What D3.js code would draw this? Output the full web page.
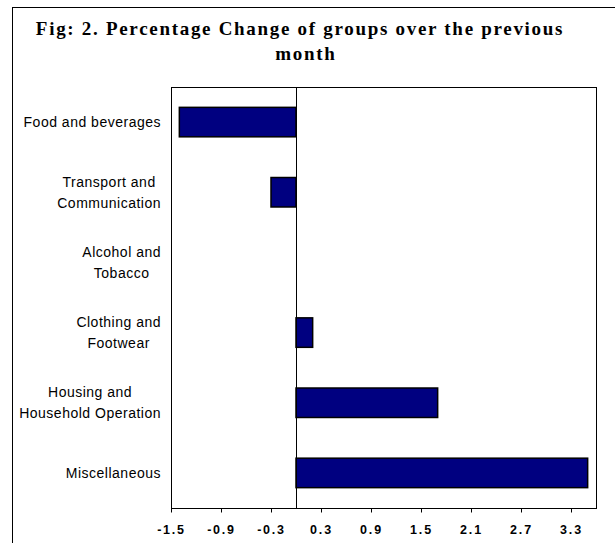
<!DOCTYPE html>
<html>
<head>
<meta charset="utf-8">
<script src="https://cdn.jsdelivr.net/npm/d3@7"></script>
<style>
  body { margin: 0; background: #fff; }
  .title { font-family: "Liberation Serif", "Times New Roman", serif; font-weight: bold; font-size: 19px; letter-spacing: 1.7px; }
  .catLabel { font-family: "Liberation Sans", Arial, sans-serif; font-size: 14px; letter-spacing: 0.5px; fill: #000; }
  .xAxis text { font-family: "Liberation Sans", Arial, sans-serif; font-size: 12.5px; font-weight: bold; letter-spacing: 1.8px; fill: #000; }
</style>
</head>
<body>
<div id="chart"></div>
<script>
// Chart data
var categoryLines = [
  ["Food and beverages"],
  ["Transport and", "Communication"],
  ["Alcohol and", "Tobacco"],
  ["Clothing and", "Footwear"],
  ["Housing and", "Household Operation"],
  ["Miscellaneous"]
];
var categories = categoryLines.map(d => d.join(" "));
var changes = [-1.4, -0.3, 0, 0.2, 1.7, 3.5];
var tickValues = [-1.5, -0.9, -0.3, 0.3, 0.9, 1.5, 2.1, 2.7, 3.3];
var titleLines = ["Fig: 2. Percentage Change of groups over the previous", "month"];

// Size of chart area
var svgWidth = 615;
var svgHeight = 543;

var plot = { left: 171, right: 596, top: 87, bottom: 508 };

var svg = d3.select("#chart")
  .append("svg")
  .attr("width", svgWidth)
  .attr("height", svgHeight);

// Outer frame (right and bottom run off the page)
svg.append("rect")
  .attr("x", 12.5)
  .attr("y", 7.5)
  .attr("width", 700)
  .attr("height", 700)
  .attr("fill", "none")
  .attr("stroke", "#000");

// Title
svg.append("text")
  .attr("class", "title")
  .attr("text-anchor", "middle")
  .selectAll("tspan")
  .data(titleLines)
  .enter()
  .append("tspan")
  .attr("x", (d, i) => i == 0 ? 300 : 306)
  .attr("y", (d, i) => 35 + i * 25)
  .text(d => d);

// Scales
var xScale = d3.scaleLinear()
  .domain([-1.5, 3.6])
  .range([plot.left, plot.right]);

var yScale = d3.scaleBand()
  .domain(categories)
  .range([plot.top, plot.bottom])
  .paddingInner(0.58)
  .paddingOuter(0.29);

// Plot area border
svg.append("rect")
  .attr("x", plot.left + 0.5)
  .attr("y", plot.top + 0.5)
  .attr("width", plot.right - plot.left)
  .attr("height", plot.bottom - plot.top)
  .attr("fill", "none")
  .attr("stroke", "#000");

// Bars
svg.selectAll(".bar")
  .data(changes)
  .enter()
  .append("rect")
  .attr("class", "bar")
  .attr("x", d => xScale(Math.min(0, d)))
  .attr("y", (d, i) => yScale(categories[i]))
  .attr("width", d => Math.abs(xScale(d) - xScale(0)))
  .attr("height", yScale.bandwidth())
  .attr("fill", "#000080")
  .attr("stroke", "#000")
  .attr("stroke-width", 1.5);

// Zero line
svg.append("line")
  .attr("x1", Math.round(xScale(0)) + 0.5)
  .attr("x2", Math.round(xScale(0)) + 0.5)
  .attr("y1", plot.top)
  .attr("y2", plot.bottom)
  .attr("stroke", "#000");

// Bottom axis
var bottomAxis = d3.axisBottom(xScale)
  .tickValues(tickValues)
  .tickSizeInner(4)
  .tickSizeOuter(0)
  .tickPadding(13)
  .tickFormat(d3.format(".1f"));

var xAxisGroup = svg.append("g")
  .attr("class", "xAxis")
  .attr("transform", `translate(0, ${plot.bottom + 0.5})`)
  .call(bottomAxis);
xAxisGroup.select(".domain").remove();
xAxisGroup.selectAll("line").attr("stroke", "#000");
xAxisGroup.selectAll("text").text(d => d3.format(".1f")(d).replace("−", "-"));

// Category labels, lines centred with each other, block right-aligned
var lineHeight = 21;
var labelGroups = svg.selectAll(".catLabel")
  .data(categoryLines)
  .enter()
  .append("text")
  .attr("class", "catLabel")
  .attr("text-anchor", "middle");

labelGroups.each(function(lines, i) {
  var t = d3.select(this);
  var cy = yScale(categories[i]) + yScale.bandwidth() / 2;
  var y0 = cy - (lines.length - 1) * lineHeight / 2;
  lines.forEach(function(line, j) {
    t.append("tspan")
      .attr("y", y0 + j * lineHeight)
      .attr("dy", "0.35em")
      .text(line);
  });
  var maxW = 0;
  t.selectAll("tspan").each(function() {
    maxW = Math.max(maxW, this.getComputedTextLength());
  });
  t.selectAll("tspan").attr("x", 161 - maxW / 2);
});
</script>
</body>
</html>
